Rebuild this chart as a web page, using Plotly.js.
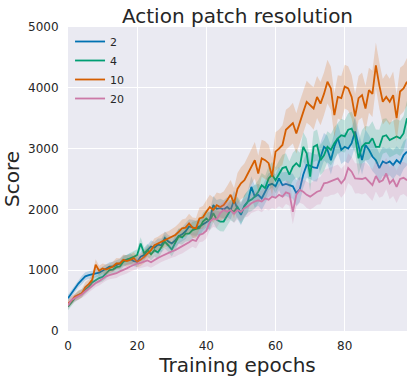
<!DOCTYPE html>
<html>
<head>
<meta charset="utf-8">
<script src="https://cdn.plot.ly/plotly-3.0.1.min.js"></script>
<style>
  html, body { margin: 0; padding: 0; background: #fff; }
  #chart { width: 413px; height: 382px; }
</style>
</head>
<body>
<div id="chart"></div>
<script>
// epochs 0..98
const epochs = [];
for (let i = 0; i < 99; i++) epochs.push(i);

const seriesNames = ['2', '4', '10', '20'];
const seriesColors = ['#0072B2', '#009E73', '#D55E00', '#CC79A7'];
const bandColors = ['rgba(0,114,178,0.2)', 'rgba(0,158,115,0.2)', 'rgba(213,94,0,0.2)', 'rgba(204,121,167,0.2)'];

// mean score per epoch
const score2 = [537, 620, 700, 780, 840, 900, 920, 930, 950, 960,
  990, 1020, 1060, 1060, 1090, 1110, 1160, 1170, 1190, 1150,
  1140, 1220, 1250, 1330, 1390, 1370, 1420, 1410, 1530, 1470,
  1440, 1490, 1560, 1590, 1640, 1720, 1700, 1690, 1720, 1750,
  1790, 1830, 2070, 2010, 2020, 2000, 2040, 1990, 2150, 2010,
  1910, 2060, 2130, 2370, 2210, 2240, 2180, 2290, 2400, 2420,
  2380, 2510, 2400, 2420, 2400, 2380, 2270, 2330, 2570, 2730,
  2720, 2690, 2680, 2870, 3030, 2980, 2810, 3030, 3170, 2980,
  3030, 3000, 3090, 3280, 3030, 2810, 3060, 2980, 2870, 2810,
  2680, 2790, 2760, 2790, 2730, 2810, 2760, 2890, 2950];

const score4 = [400, 470, 540, 590, 620, 680, 730, 800, 840, 870,
  890, 940, 1000, 1010, 1050, 1060, 1140, 1170, 1190, 1220,
  1250, 1440, 1280, 1330, 1260, 1330, 1290, 1390, 1470, 1410,
  1340, 1450, 1560, 1540, 1600, 1600, 1660, 1680, 1690, 1800,
  1850, 1800, 1940, 1830, 1800, 1800, 1900, 1990, 1960, 2040,
  1940, 2050, 2130, 2160, 2210, 2290, 2400, 2350, 2510, 2570,
  2480, 2590, 2680, 2700, 2570, 2700, 2760, 2700, 3030, 2920,
  2540, 3030, 3060, 2810, 2890, 3030, 2980, 3090, 3170, 3220,
  3200, 3310, 3330, 3200, 2840, 3030, 3090, 3090, 3170, 3030,
  3030, 3200, 3220, 3140, 3170, 3200, 3170, 3250, 3500];

const score10 = [455, 500, 566, 590, 620, 720, 770, 840, 1090, 990,
  1030, 1010, 1030, 1060, 1110, 1110, 1170, 1150, 1170, 1200,
  1140, 1170, 1220, 1280, 1330, 1410, 1440, 1470, 1500, 1520,
  1550, 1580, 1630, 1690, 1700, 1770, 1700, 1690, 1850, 1870,
  1960, 2040, 1990, 2070, 2040, 2070, 2150, 2240, 2100, 2340,
  2430, 2480, 2590, 2700, 2810, 2590, 2840, 2810, 2760, 2540,
  2950, 3000, 3060, 3310, 3360, 3420, 3250, 3440, 3600, 3770,
  3720, 3660, 3850, 3740, 3900, 4100, 3990, 3550, 3850, 3830,
  4020, 3990, 3850, 3530, 3830, 3880, 3660, 3960, 3900, 4370,
  4040, 3770, 3850, 3770, 3880, 3500, 3940, 3990, 4100];

const score20 = [420, 510, 540, 570, 600, 650, 700, 750, 790, 820,
  860, 900, 920, 930, 950, 980, 1000, 1030, 1060, 1090,
  1110, 1120, 1140, 1160, 1130, 1170, 1200, 1230, 1260, 1290,
  1310, 1330, 1360, 1390, 1420, 1460, 1500, 1480, 1580, 1600,
  1650, 1800, 1850, 1830, 1940, 1990, 1960, 1990, 1930, 1990,
  1960, 2020, 2050, 2100, 2130, 2150, 2130, 2180, 2160, 2210,
  2190, 2240, 2210, 2280, 2260, 1960, 2240, 2320, 2290, 2240,
  2210, 2250, 2290, 2310, 2430, 2440, 2460, 2480, 2510, 2430,
  2500, 2680, 2620, 2510, 2510, 2500, 2520, 2460, 2400, 2550,
  2450, 2480, 2590, 2430, 2490, 2370, 2500, 2520, 2480];

// half width of the shaded band per epoch
const spread2 = [60, 60, 65, 60, 70, 65, 60, 70, 65, 70,
  70, 75, 70, 80, 75, 80, 85, 80, 90, 85,
  90, 85, 95, 90, 100, 95, 100, 110, 105, 110,
  110, 115, 120, 115, 125, 120, 130, 125, 135, 130,
  140, 145, 150, 145, 155, 150, 160, 155, 165, 170,
  170, 175, 180, 175, 185, 180, 190, 185, 195, 190,
  200, 195, 205, 200, 210, 205, 215, 210, 220, 215,
  220, 225, 220, 230, 225, 230, 235, 230, 240, 235,
  240, 245, 240, 250, 245, 240, 250, 245, 240, 245,
  240, 235, 240, 230, 235, 230, 225, 230, 225];

const spread4 = [60, 65, 60, 70, 65, 70, 65, 75, 70, 75,
  75, 80, 75, 85, 80, 85, 90, 85, 95, 90,
  95, 100, 95, 105, 100, 105, 110, 105, 115, 110,
  115, 120, 125, 120, 130, 125, 135, 130, 140, 145,
  145, 150, 155, 150, 160, 165, 160, 170, 175, 170,
  180, 185, 180, 190, 195, 190, 200, 205, 200, 210,
  215, 210, 220, 225, 220, 230, 235, 230, 240, 245,
  240, 250, 255, 250, 260, 255, 260, 265, 260, 270,
  265, 270, 275, 270, 280, 275, 280, 275, 280, 285,
  280, 285, 280, 285, 290, 285, 290, 285, 290];

const spread10 = [65, 70, 65, 75, 70, 80, 75, 85, 90, 85,
  80, 85, 80, 85, 90, 85, 90, 95, 90, 95,
  95, 100, 105, 100, 110, 115, 110, 120, 125, 120,
  130, 135, 140, 145, 150, 160, 165, 170, 180, 185,
  190, 200, 205, 210, 220, 225, 235, 245, 250, 260,
  265, 275, 280, 290, 300, 295, 305, 310, 305, 315,
  320, 315, 325, 330, 325, 335, 330, 340, 335, 345,
  340, 350, 345, 355, 350, 360, 355, 360, 355, 365,
  360, 365, 360, 370, 365, 370, 375, 370, 380, 375,
  380, 375, 385, 380, 390, 385, 390, 385, 390];

const spread20 = [60, 60, 65, 60, 65, 70, 65, 70, 65, 70,
  70, 75, 70, 75, 80, 75, 80, 85, 80, 85,
  90, 85, 90, 95, 90, 95, 100, 95, 100, 105,
  105, 110, 105, 115, 110, 120, 115, 125, 120, 130,
  130, 135, 140, 135, 145, 140, 150, 145, 155, 150,
  160, 155, 165, 160, 170, 165, 175, 170, 180, 185,
  185, 190, 195, 190, 200, 205, 200, 210, 205, 215,
  210, 220, 215, 225, 220, 230, 225, 235, 230, 240,
  235, 245, 240, 250, 245, 255, 250, 255, 260, 255,
  260, 265, 260, 265, 270, 265, 270, 265, 270];

const allScores = [score2, score4, score10, score20];
const allSpreads = [spread2, spread4, spread10, spread20];

const traces = [];
for (let s = 0; s < seriesNames.length; s++) {
  const mean = allScores[s];
  const upper = mean.map((v, i) => v + allSpreads[s][i]);
  const lower = mean.map((v, i) => v - allSpreads[s][i]);
  traces.push({
    x: epochs, y: upper, type: 'scatter', mode: 'lines',
    line: { width: 0, color: bandColors[s] },
    showlegend: false, hoverinfo: 'skip',
  });
  traces.push({
    x: epochs, y: lower, type: 'scatter', mode: 'lines',
    line: { width: 0, color: bandColors[s] },
    fill: 'tonexty', fillcolor: bandColors[s],
    showlegend: false, hoverinfo: 'skip',
  });
  traces.push({
    x: epochs, y: mean, type: 'scatter', mode: 'lines',
    name: seriesNames[s],
    line: { width: 1.8, color: seriesColors[s] },
  });
}

const textColor = '#262626';
const fontFamily = 'DejaVu Sans, sans-serif';

const layout = {
  width: 413,
  height: 382,
  margin: { t: 27, b: 51, l: 68, r: 6 },
  paper_bgcolor: '#ffffff',
  plot_bgcolor: '#EAEAF2',
  font: { family: fontFamily, color: textColor, size: 12 },
  title: {
    text: 'Action patch resolution',
    font: { size: 20, color: textColor },
    x: 0.5, xref: 'paper',
    y: 1 - 16 / 382, yref: 'container', yanchor: 'middle',
  },
  xaxis: {
    range: [0, 98],
    tickvals: [0, 20, 40, 60, 80],
    showgrid: true, gridcolor: '#ffffff', gridwidth: 1.3,
    zeroline: false, showline: false,
    ticks: 'outside', ticklen: 4, tickcolor: 'rgba(0,0,0,0)',
    tickfont: { size: 12, color: textColor },
    title: { text: 'Training epochs', font: { size: 20, color: textColor }, standoff: 5 },
  },
  yaxis: {
    range: [0, 5000],
    tickvals: [0, 1000, 2000, 3000, 4000, 5000],
    showgrid: true, gridcolor: '#ffffff', gridwidth: 1.3,
    zeroline: false, showline: false,
    ticks: 'outside', ticklen: 6, tickcolor: 'rgba(0,0,0,0)',
    tickfont: { size: 12, color: textColor },
    title: { text: 'Score', font: { size: 20, color: textColor }, standoff: 10 },
  },
  legend: {
    x: 0.006, y: 1.0, xanchor: 'left', yanchor: 'top',
    traceorder: 'normal',
    bgcolor: 'rgba(0,0,0,0)',
    font: { size: 11, color: textColor },
    tracegroupgap: 0,
  },
};

Plotly.newPlot('chart', traces, layout, { displayModeBar: false });
</script>
</body>
</html>
